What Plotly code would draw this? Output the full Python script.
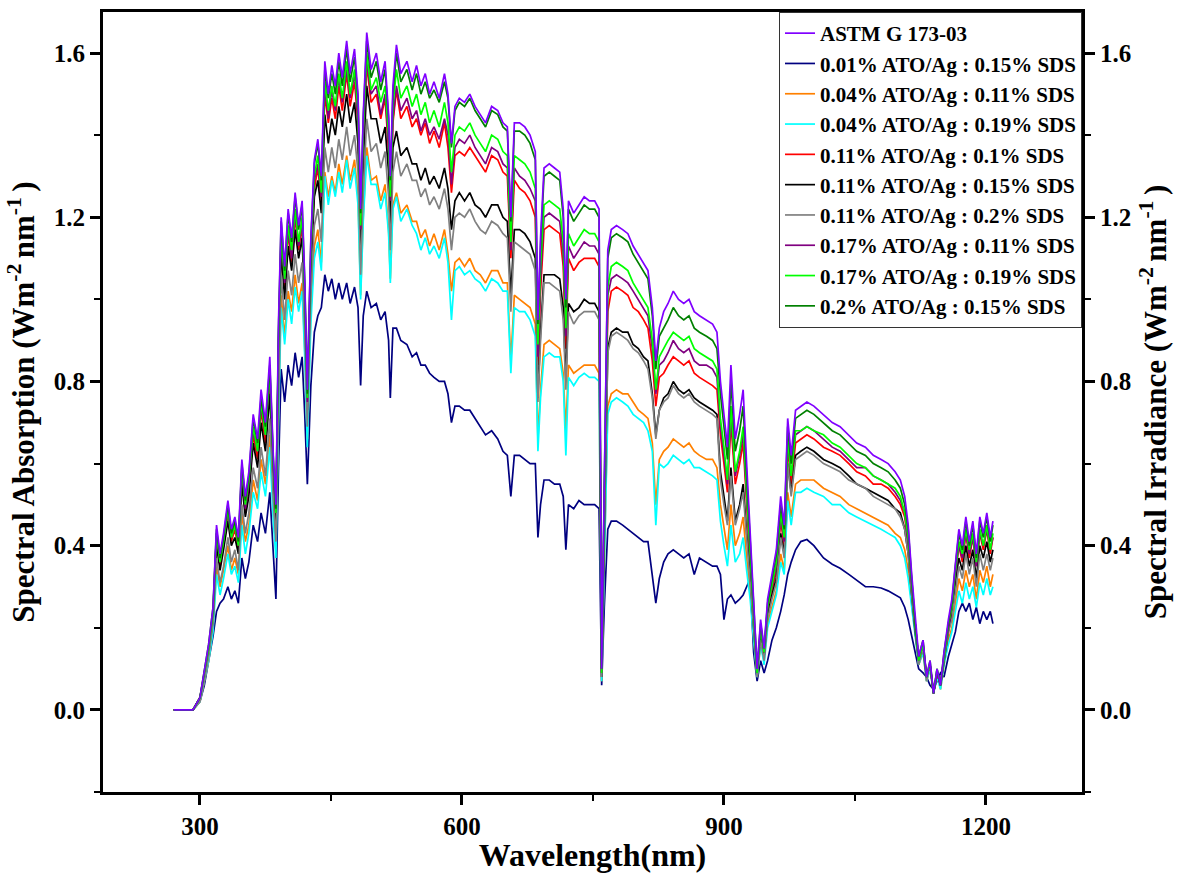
import plotly.graph_objects as go

# Wavelength grid (nm)
wavelength = [
    270, 280, 292, 300,
    305, 310, 315, 319, 323, 327, 332, 336, 340, 344, 348, 352, 356, 361, 366, 370, 375, 380, 384, 387, 390,
    393, 397, 401, 405, 409, 413, 417, 420, 423, 427, 431, 435, 439,
    443, 447, 451, 455, 459, 463, 468, 472, 477, 481, 484, 487, 491, 496,
    502, 507, 512, 516, 518, 521, 525, 530, 537, 543, 548, 553, 558, 563, 568, 574, 580, 584, 588, 592, 597,
    603, 609, 615, 621, 627, 634, 641, 647, 652, 656, 660,
    666, 672, 678, 684, 687, 690, 694, 700, 706, 712, 716, 719, 722, 728, 734, 740, 746, 752, 757, 760, 763,
    767, 771, 777, 784, 790, 796, 802, 808, 813, 818, 822, 826,
    831, 836, 842, 848, 854, 860, 866, 872, 880, 887, 892,
    896, 900, 904, 908, 913, 918, 922, 926, 930, 934, 938, 942, 946, 950, 955, 960, 965, 969,
    973, 977, 982, 988, 995, 1003, 1014, 1024, 1033, 1043, 1052, 1062, 1071, 1080, 1088, 1096, 1102, 1107,
    1111, 1115, 1119, 1123, 1128, 1132, 1136, 1140, 1144, 1148, 1152, 1157, 1161,
    1165, 1169, 1173, 1177, 1181, 1185, 1189, 1193, 1197, 1201, 1205, 1208,
]

astm = [
    0, 0, 0, .03,
    .09, .16, .25, .45, .38, .43, .51, .44, .47, .42, .61, .52, .58, .72, .66, .78, .70, .86, .62, .50, .95,
    1.20, 1.08, 1.22, 1.15, 1.26, 1.18, 1.24, 1.05, .78, 1.15, 1.34, 1.39, 1.30,
    1.58, 1.50, 1.57, 1.52, 1.60, 1.54, 1.63, 1.55, 1.61, 1.50, 1.22, 1.45, 1.65, 1.56,
    1.60, 1.53, 1.58, 1.45, 1.30, 1.52, 1.62, 1.55, 1.58, 1.53, 1.57, 1.52, 1.55, 1.50, 1.53, 1.49, 1.55, 1.50, 1.38, 1.47, 1.49,
    1.48, 1.50, 1.47, 1.45, 1.43, 1.47, 1.46, 1.43, 1.42, 1.20, 1.43,
    1.43, 1.42, 1.40, 1.36, .95, 1.15, 1.32, 1.33, 1.32, 1.31, 1.22, 1.00, 1.24, 1.21, 1.23, 1.25, 1.24, 1.24, 1.22, .10, .55,
    1.12, 1.17, 1.18, 1.17, 1.16, 1.13, 1.11, 1.09, 1.07, .98, .85, .93,
    .97, .99, 1.02, 1.00, .99, 1.00, .97, .96, .95, .94, .92,
    .80, .72, .64, .84, .66, .72, .78, .60, .43, .25, .10, .22, .15, .27, .33, .39, .52, .45,
    .71, .62, .73, .74, .75, .74, .72, .70, .69, .67, .65, .64, .62, .61, .60, .58, .56, .52,
    .45, .33, .22, .13, .17, .08, .12, .04, .10, .06, .14, .22, .27,
    .36, .44, .40, .47, .41, .46, .38, .47, .43, .48, .42, .46,
]

s_001_015 = [
    0, 0, 0, .02,
    .06, .12, .18, .24, .26, .27, .30, .27, .29, .26, .37, .32, .36, .45, .41, .48, .43, .53, .38, .27, .59,
    .83, .75, .84, .79, .87, .81, .86, .72, .55, .79, .92, .96, .98,
    1.06, 1.02, 1.05, 1.00, 1.04, 1.00, 1.04, .99, 1.03, .98, .79, .96, 1.02, .98,
    .99, .95, .97, .90, .76, .93, .93, .90, .89, .86, .87, .84, .84, .82, .81, .80, .80, .77, .70, .74, .74,
    .73, .73, .71, .69, .67, .68, .66, .63, .62, .52, .62,
    .62, .61, .60, .60, .42, .50, .56, .56, .55, .55, .52, .39, .50, .49, .51, .50, .50, .50, .49, .06, .25,
    .44, .46, .46, .45, .44, .43, .42, .41, .41, .33, .26, .32,
    .36, .38, .39, .38, .37, .38, .33, .37, .36, .35, .35,
    .33, .22, .27, .28, .26, .27, .28, .30, .32, .14, .07, .12, .09, .12, .17, .20, .24, .28,
    .33, .36, .39, .41, .415, .40, .37, .355, .345, .33, .315, .30, .30, .297, .29, .28, .273, .25,
    .22, .18, .14, .10, .09, .08, .06, .05, .07, .09, .08, .13, .16,
    .19, .24, .26, .24, .26, .22, .25, .21, .24, .22, .24, .21,
]

s_004_011 = [
    0, 0, 0, .02,
    .07, .12, .20, .35, .30, .34, .40, .34, .37, .33, .48, .41, .45, .56, .51, .61, .55, .67, .48, .39, .74,
    1.01, .91, 1.02, .97, 1.06, .99, 1.04, .88, .66, .97, 1.13, 1.17, 1.09,
    1.31, 1.25, 1.30, 1.26, 1.33, 1.28, 1.35, 1.29, 1.34, 1.25, 1.01, 1.20, 1.37, 1.29,
    1.30, 1.24, 1.28, 1.17, 1.05, 1.23, 1.26, 1.21, 1.23, 1.19, 1.19, 1.15, 1.17, 1.13, 1.16, 1.12, 1.17, 1.11, 1.02, 1.09, 1.10,
    1.08, 1.10, 1.07, 1.06, 1.04, 1.07, 1.07, 1.04, 1.04, .85, 1.01,
    1.00, .99, .98, .94, .66, .78, .89, .90, .89, .88, .82, .68, .84, .82, .83, .84, .84, .84, .82, .07, .36,
    .74, .77, .78, .77, .77, .75, .73, .72, .71, .65, .50, .61,
    .63, .64, .66, .65, .64, .65, .63, .62, .61, .61, .59,
    .50, .44, .39, .50, .40, .43, .47, .37, .29, .18, .08, .16, .12, .21, .25, .29, .38, .34,
    .53, .47, .55, .56, .56, .56, .54, .53, .52, .50, .49, .48, .47, .46, .45, .43, .42, .39,
    .34, .26, .18, .11, .14, .07, .10, .04, .09, .05, .11, .17, .20,
    .26, .32, .29, .34, .30, .33, .27, .34, .31, .35, .30, .33,
]

s_004_019 = [
    0, 0, 0, .02,
    .07, .12, .19, .33, .28, .32, .38, .33, .35, .31, .45, .38, .43, .53, .49, .58, .52, .64, .46, .37, .70,
    .98, .89, 1.00, .94, 1.03, .97, 1.02, .86, .64, .94, 1.10, 1.14, 1.07,
    1.30, 1.23, 1.29, 1.25, 1.31, 1.26, 1.34, 1.27, 1.32, 1.23, 1.00, 1.19, 1.35, 1.28,
    1.28, 1.22, 1.26, 1.16, 1.04, 1.22, 1.25, 1.19, 1.22, 1.18, 1.16, 1.12, 1.15, 1.11, 1.13, 1.10, 1.15, 1.09, .95, 1.07, 1.08,
    1.06, 1.07, 1.05, 1.04, 1.02, 1.05, 1.04, 1.02, 1.02, .82, .98,
    .97, .97, .95, .91, .63, .76, .86, .87, .86, .86, .80, .62, .81, .79, .81, .82, .81, .81, .80, .07, .35,
    .72, .75, .76, .75, .74, .72, .71, .70, .68, .63, .45, .60,
    .59, .60, .62, .61, .60, .61, .59, .59, .58, .57, .56,
    .46, .40, .35, .45, .36, .38, .42, .34, .27, .17, .08, .16, .11, .20, .24, .28, .36, .33,
    .51, .45, .53, .53, .54, .53, .52, .50, .50, .48, .47, .46, .45, .44, .43, .42, .40, .37,
    .32, .25, .17, .11, .14, .07, .10, .04, .08, .05, .11, .16, .19,
    .24, .29, .26, .31, .27, .30, .25, .31, .28, .32, .28, .30,
]

s_011_010 = [
    0, 0, 0, .03,
    .08, .15, .23, .42, .35, .40, .47, .41, .44, .39, .57, .48, .54, .67, .61, .73, .65, .80, .58, .47, .88,
    1.14, 1.03, 1.16, 1.09, 1.20, 1.12, 1.18, 1.00, .74, 1.09, 1.27, 1.32, 1.24,
    1.50, 1.43, 1.49, 1.44, 1.52, 1.46, 1.55, 1.47, 1.53, 1.43, 1.16, 1.38, 1.57, 1.48,
    1.50, 1.44, 1.49, 1.36, 1.22, 1.43, 1.51, 1.44, 1.47, 1.42, 1.44, 1.40, 1.43, 1.38, 1.41, 1.37, 1.43, 1.37, 1.26, 1.35, 1.36,
    1.35, 1.37, 1.35, 1.33, 1.31, 1.35, 1.34, 1.31, 1.30, 1.10, 1.29,
    1.27, 1.26, 1.24, 1.20, .84, 1.02, 1.17, 1.18, 1.17, 1.16, 1.08, .88, 1.10, 1.07, 1.09, 1.10, 1.10, 1.10, 1.08, .09, .48,
    .97, 1.02, 1.03, 1.02, 1.01, .98, .97, .95, .93, .85, .74, .81,
    .82, .84, .86, .85, .84, .85, .82, .81, .80, .79, .78,
    .67, .60, .53, .70, .55, .60, .65, .50, .37, .22, .09, .19, .13, .24, .29, .34, .46, .40,
    .64, .55, .65, .66, .67, .66, .64, .63, .62, .60, .58, .57, .55, .55, .54, .52, .50, .47,
    .40, .30, .20, .12, .16, .08, .11, .04, .09, .06, .13, .20, .24,
    .33, .40, .36, .43, .37, .42, .35, .43, .39, .44, .38, .42,
]

s_011_015 = [
    0, 0, 0, .03,
    .08, .14, .22, .40, .34, .39, .46, .40, .42, .38, .55, .47, .52, .65, .59, .70, .63, .77, .56, .45, .86,
    1.12, 1.00, 1.13, 1.07, 1.17, 1.10, 1.15, .98, .73, 1.07, 1.25, 1.29, 1.21,
    1.45, 1.38, 1.44, 1.40, 1.47, 1.42, 1.50, 1.43, 1.48, 1.38, 1.12, 1.33, 1.52, 1.44,
    1.44, 1.38, 1.42, 1.31, 1.17, 1.37, 1.41, 1.35, 1.37, 1.33, 1.33, 1.29, 1.32, 1.28, 1.30, 1.27, 1.32, 1.27, 1.17, 1.24, 1.26,
    1.24, 1.26, 1.23, 1.22, 1.20, 1.23, 1.23, 1.20, 1.19, 1.01, 1.17,
    1.17, 1.16, 1.14, 1.10, .76, .92, 1.06, 1.06, 1.06, 1.05, .98, .80, .99, .97, .98, 1.00, .99, .99, .97, .08, .43,
    .88, .92, .93, .92, .92, .89, .88, .86, .85, .77, .67, .73,
    .76, .77, .80, .78, .77, .78, .76, .75, .74, .73, .72,
    .58, .52, .46, .59, .46, .50, .55, .43, .33, .20, .09, .18, .13, .23, .28, .32, .43, .38,
    .60, .53, .62, .63, .64, .63, .61, .60, .59, .57, .55, .54, .53, .52, .51, .49, .48, .44,
    .38, .28, .19, .12, .15, .08, .11, .04, .09, .06, .12, .19, .23,
    .31, .37, .34, .40, .35, .39, .32, .40, .37, .41, .36, .39,
]

s_011_020 = [
    0, 0, 0, .02,
    .07, .13, .21, .37, .31, .35, .42, .36, .39, .34, .50, .43, .48, .59, .54, .64, .57, .71, .51, .41, .78,
    1.06, .95, 1.07, 1.01, 1.11, 1.04, 1.09, .92, .69, 1.01, 1.18, 1.22, 1.14,
    1.37, 1.31, 1.37, 1.32, 1.39, 1.34, 1.42, 1.35, 1.40, 1.31, 1.06, 1.26, 1.44, 1.36,
    1.38, 1.32, 1.36, 1.25, 1.12, 1.31, 1.36, 1.30, 1.33, 1.29, 1.29, 1.25, 1.27, 1.23, 1.25, 1.22, 1.27, 1.22, 1.12, 1.20, 1.21,
    1.20, 1.22, 1.19, 1.17, 1.16, 1.19, 1.18, 1.16, 1.15, .97, 1.14,
    1.13, 1.12, 1.11, 1.07, .75, .90, 1.04, 1.04, 1.03, 1.02, .95, .78, .97, .94, .96, .97, .97, .97, .95, .08, .43,
    .87, .91, .92, .91, .90, .88, .87, .85, .83, .76, .66, .73,
    .75, .76, .79, .77, .76, .77, .75, .74, .73, .72, .71,
    .56, .50, .45, .57, .45, .49, .53, .42, .32, .20, .08, .17, .12, .22, .27, .31, .42, .37,
    .60, .52, .61, .62, .63, .62, .60, .59, .58, .56, .55, .54, .52, .51, .50, .49, .47, .44,
    .38, .28, .19, .11, .15, .07, .11, .04, .09, .06, .12, .19, .22,
    .29, .35, .32, .38, .33, .37, .30, .38, .34, .38, .34, .37,
]

s_017_011 = [
    0, 0, 0, .03,
    .09, .15, .24, .43, .36, .41, .48, .42, .45, .40, .58, .49, .55, .68, .63, .74, .67, .82, .59, .48, .90,
    1.15, 1.04, 1.17, 1.10, 1.21, 1.13, 1.19, 1.01, .75, 1.10, 1.29, 1.33, 1.25,
    1.52, 1.44, 1.51, 1.46, 1.54, 1.48, 1.56, 1.49, 1.55, 1.44, 1.17, 1.39, 1.58, 1.50,
    1.52, 1.45, 1.50, 1.38, 1.24, 1.44, 1.52, 1.46, 1.49, 1.44, 1.46, 1.41, 1.44, 1.40, 1.42, 1.39, 1.44, 1.40, 1.28, 1.37, 1.39,
    1.38, 1.40, 1.37, 1.35, 1.33, 1.37, 1.36, 1.33, 1.32, 1.12, 1.32,
    1.30, 1.29, 1.27, 1.24, .86, 1.05, 1.20, 1.21, 1.20, 1.19, 1.11, .91, 1.13, 1.10, 1.12, 1.14, 1.13, 1.13, 1.11, .09, .50,
    1.01, 1.05, 1.06, 1.05, 1.04, 1.02, 1.00, .98, .96, .88, .77, .84,
    .85, .87, .90, .88, .87, .88, .85, .84, .84, .83, .81,
    .69, .62, .55, .72, .57, .62, .67, .52, .38, .23, .09, .20, .14, .25, .30, .35, .47, .41,
    .65, .57, .67, .68, .69, .68, .66, .64, .63, .61, .59, .59, .57, .56, .55, .53, .51, .48,
    .41, .30, .20, .12, .16, .08, .11, .04, .09, .06, .13, .20, .25,
    .33, .40, .37, .43, .38, .42, .35, .43, .40, .44, .39, .42,
]

s_017_019 = [
    0, 0, 0, .03,
    .09, .15, .24, .43, .36, .41, .49, .42, .45, .40, .59, .50, .56, .69, .63, .75, .67, .83, .60, .48, .91,
    1.16, 1.05, 1.18, 1.12, 1.22, 1.14, 1.20, 1.02, .76, 1.12, 1.30, 1.35, 1.26,
    1.53, 1.46, 1.52, 1.47, 1.55, 1.49, 1.58, 1.50, 1.56, 1.46, 1.18, 1.41, 1.60, 1.51,
    1.54, 1.48, 1.52, 1.40, 1.25, 1.47, 1.56, 1.49, 1.52, 1.47, 1.50, 1.45, 1.48, 1.43, 1.46, 1.42, 1.48, 1.43, 1.31, 1.40, 1.42,
    1.41, 1.43, 1.40, 1.38, 1.36, 1.40, 1.39, 1.36, 1.35, 1.14, 1.35,
    1.34, 1.33, 1.31, 1.27, .89, 1.08, 1.23, 1.24, 1.23, 1.22, 1.14, .93, 1.16, 1.13, 1.15, 1.17, 1.16, 1.16, 1.14, .09, .51,
    1.03, 1.08, 1.09, 1.08, 1.07, 1.04, 1.02, 1.00, .98, .90, .78, .86,
    .88, .90, .92, .91, .90, .91, .88, .87, .86, .85, .83,
    .71, .64, .56, .74, .58, .63, .69, .53, .39, .23, .09, .20, .14, .25, .31, .36, .48, .42,
    .66, .57, .68, .68, .69, .68, .67, .65, .64, .62, .60, .59, .57, .56, .55, .54, .52, .48,
    .42, .31, .21, .12, .16, .08, .11, .04, .10, .06, .13, .21, .25,
    .34, .41, .38, .44, .39, .43, .36, .44, .40, .45, .39, .43,
]

s_020_015 = [
    0, 0, 0, .03,
    .09, .16, .25, .44, .37, .42, .50, .43, .46, .41, .60, .51, .57, .71, .65, .76, .69, .84, .61, .49, .93,
    1.19, 1.07, 1.21, 1.14, 1.25, 1.17, 1.23, 1.04, .77, 1.14, 1.33, 1.38, 1.29,
    1.56, 1.49, 1.55, 1.50, 1.58, 1.52, 1.61, 1.53, 1.59, 1.49, 1.21, 1.44, 1.63, 1.54,
    1.58, 1.51, 1.56, 1.44, 1.29, 1.50, 1.60, 1.53, 1.56, 1.51, 1.55, 1.50, 1.53, 1.49, 1.51, 1.48, 1.53, 1.49, 1.37, 1.46, 1.48,
    1.47, 1.49, 1.46, 1.44, 1.42, 1.46, 1.45, 1.42, 1.41, 1.19, 1.41,
    1.41, 1.40, 1.38, 1.34, .94, 1.13, 1.30, 1.31, 1.30, 1.29, 1.20, .98, 1.22, 1.19, 1.21, 1.23, 1.22, 1.22, 1.20, .10, .54,
    1.10, 1.15, 1.16, 1.15, 1.14, 1.11, 1.09, 1.07, 1.05, .96, .83, .91,
    .93, .95, .98, .96, .95, .96, .93, .92, .91, .90, .88,
    .77, .69, .61, .80, .63, .68, .74, .57, .41, .24, .10, .21, .15, .26, .32, .38, .50, .44,
    .69, .60, .71, .72, .73, .72, .70, .68, .67, .65, .63, .62, .60, .59, .58, .56, .54, .50,
    .44, .32, .21, .13, .17, .08, .12, .04, .10, .06, .14, .21, .26,
    .35, .43, .39, .46, .40, .45, .37, .46, .42, .47, .41, .45,
]

series_names = [
    "0.01% ATO/Ag : 0.15% SDS",
    "0.04% ATO/Ag : 0.11% SDS",
    "0.04% ATO/Ag : 0.19% SDS",
    "0.11% ATO/Ag : 0.1% SDS",
    "0.11% ATO/Ag : 0.15% SDS",
    "0.11% ATO/Ag : 0.2% SDS",
    "0.17% ATO/Ag : 0.11% SDS",
    "0.17% ATO/Ag : 0.19% SDS",
    "0.2% ATO/Ag : 0.15% SDS",
]
series_values = [s_001_015, s_004_011, s_004_019, s_011_010, s_011_015,
                 s_011_020, s_017_011, s_017_019, s_020_015]
series_colors = ["#000080", "#FF8000", "#00FFFF", "#FF0000", "#000000",
                 "#808080", "#800080", "#00FF00", "#008000"]

for v in [astm] + series_values:
    assert len(v) == len(wavelength), (len(v), len(wavelength))

FONT = "Liberation Serif"
fig = go.Figure()

for i, (name, vals, col) in enumerate(zip(series_names, series_values, series_colors)):
    fig.add_trace(go.Scatter(x=wavelength, y=vals, mode="lines", name=name,
                             line=dict(color=col, width=1.7), legendrank=i + 2))

fig.add_trace(go.Scatter(x=wavelength, y=astm, mode="lines", name="ASTM G 173-03",
                         line=dict(color="#8000FF", width=1.7), legendrank=1,
                         yaxis="y2"))

tickfont = dict(family=FONT, size=25, color="black", weight="bold")
titlefont = dict(family=FONT, size=31, color="black", weight="bold")
yr = [-0.2, 1.7]

fig.update_layout(
    width=1188, height=873,
    margin=dict(l=103, r=106, t=9, b=81),
    paper_bgcolor="white", plot_bgcolor="white",
    showlegend=True,
    legend=dict(x=1, y=1, xanchor="right", yanchor="top",
                bgcolor="white", bordercolor="#333333", borderwidth=1,
                font=dict(family=FONT, size=21, color="black", weight="bold"),
                tracegroupgap=0),
    xaxis=dict(range=[189, 1310], tickmode="linear", tick0=0, dtick=300,
               ticks="outside", ticklen=10, tickwidth=2.5, tickcolor="black",
               minor=dict(dtick=150, ticks="outside", ticklen=6, tickwidth=2, tickcolor="black"),
               showline=True, linewidth=3, linecolor="black", mirror=True,
               showgrid=False, zeroline=False, tickfont=tickfont,
               title=dict(text="Wavelength(nm)", font=dict(family=FONT, size=32, color="black", weight="bold"),
                          standoff=1)),
    yaxis=dict(range=yr, tickmode="linear", tick0=0, dtick=0.4, tickformat=".1f",
               ticks="outside", ticklen=10, tickwidth=2.5, tickcolor="black",
               minor=dict(dtick=0.2, ticks="outside", ticklen=6, tickwidth=2, tickcolor="black"),
               showline=True, linewidth=3, linecolor="black",
               showgrid=False, zeroline=False, tickfont=tickfont,
               title=dict(text="Spectral Absorption (Wm<sup>-2 </sup>nm<sup>-1 </sup>)", font=titlefont,
                          standoff=10)),
    yaxis2=dict(range=yr, overlaying="y", side="right", tickmode="linear", tick0=0, dtick=0.4,
                tickformat=".1f",
                ticks="outside", ticklen=10, tickwidth=2.5, tickcolor="black",
                minor=dict(dtick=0.2, ticks="outside", ticklen=6, tickwidth=2, tickcolor="black"),
                showline=True, linewidth=3, linecolor="black",
                showgrid=False, zeroline=False, tickfont=tickfont,
                title=dict(text="Spectral Irradiance (Wm<sup>-2 </sup>nm<sup>-1 </sup>)", font=titlefont,
                           standoff=14)),
)

fig.write_html("out.html")
